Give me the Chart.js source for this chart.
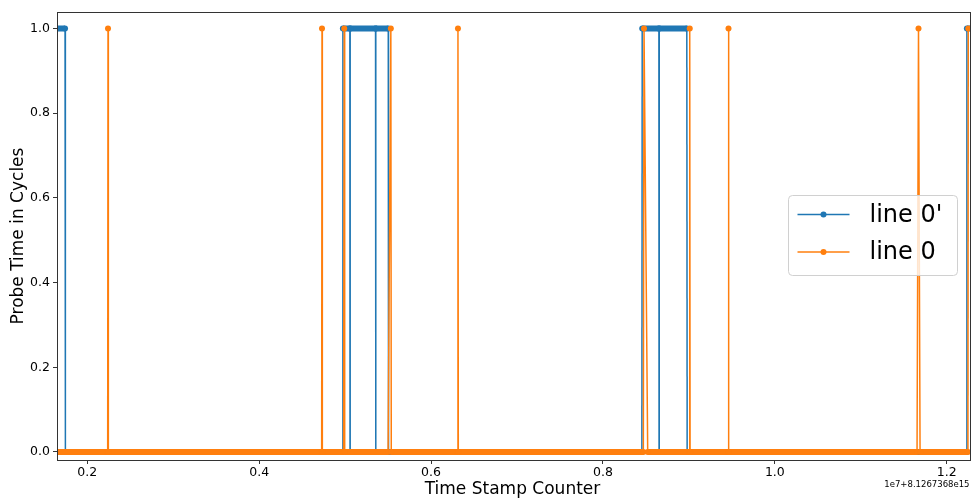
<!DOCTYPE html>
<html>
<head>
<meta charset="utf-8">
<script src="https://cdn.jsdelivr.net/npm/chart.js@4/dist/chart.umd.min.js"></script>
<style>
  html, body { margin: 0; padding: 0; background: #fff; }
</style>
</head>
<body>
<canvas id="probeChart" width="972" height="498"></canvas>
<script>
// Axis ticks and limits (x in units of 1e7, offset 8.1267368e15)
const xTicks = [0.2, 0.4, 0.6, 0.8, 1.0, 1.2];
const yTicks = [0.0, 0.2, 0.4, 0.6, 0.8, 1.0];
const xRange = [0.16474, 1.22479];
const yRange = [-0.019, 1.039];
const offsetLabel = '1e7+8.1267368e15';

// line 0' (blue)
const line0pTimes  = [0.1600, 0.1741, 0.1745, 0.4970, 0.4974, 0.5055, 0.5057, 0.5059,
                      0.5354, 0.5356, 0.5358, 0.5502, 0.5505, 0.8453, 0.8457, 0.8651,
                      0.8653, 0.8655, 0.8976, 0.8980, 1.2231, 1.2235, 1.2300];
const line0pValues = [1, 1, 0, 0, 1, 1, 0, 1,
                      1, 0, 1, 1, 0, 0, 1, 1,
                      0, 1, 1, 0, 0, 1, 1];

// line 0 (orange)
const line0Times  = [0.1600, 0.2237, 0.2241, 0.2245, 0.4727, 0.4731, 0.4735, 0.4982,
                     0.4990, 0.4995, 0.5500, 0.5532, 0.5537, 0.6309, 0.6313, 0.6317,
                     0.8470, 0.8478, 0.8521, 0.9003, 0.9010, 0.9014, 0.9457, 0.9461,
                     0.9465, 1.1655, 1.1672, 1.1690, 1.2247, 1.2251, 1.2256, 1.2300];
const line0Values = [0, 0, 1, 0, 0, 1, 0, 0,
                     1, 0, 0, 1, 0, 0, 1, 0,
                     0, 1, 0, 0, 1, 0, 0, 1,
                     0, 0, 1, 0, 0, 1, 0, 0];

const seriesNames = ["line 0'", 'line 0'];
const seriesColors = ['#1f77b4', '#ff7f0e'];

const toPoints = (xs, ys) => xs.map((x, i) => ({ x: x, y: ys[i] }));

// flat runs are densely sampled in the original, so the markers merge into a solid band
const bandWidth = ctx => ctx.p0.parsed.y === ctx.p1.parsed.y ? 6 : 1.5;

const font = 'DejaVu Sans';

// Chart.js keeps a few px on the right of the x axis; the plot is let run into it
const rightExtra = 2.5;

// frame, legend and offset text drawn on top of the lines, like matplotlib
const overlay = {
    id: 'overlay',
    afterDatasetsDraw(chart) {
        const c = chart.ctx;
        const a = chart.chartArea;
        const right = a.right + rightExtra;
        c.save();

        // axes frame
        c.strokeStyle = '#333';
        c.lineWidth = 1;
        c.strokeRect(a.left + 0.5, a.top + 0.5, right - a.left - 0.5, a.bottom - a.top);

        // legend
        const bx = right - 182, by = 195.5, bw = 169, bh = 80;
        c.beginPath();
        c.roundRect(bx, by, bw, bh, 4);
        c.fillStyle = 'rgba(255,255,255,0.8)';
        c.fill();
        c.strokeStyle = '#d0d0d0';
        c.lineWidth = 1;
        c.stroke();
        c.font = '24px "' + font + '"';
        c.textBaseline = 'middle';
        c.textAlign = 'left';
        seriesNames.forEach((name, i) => {
            const ry = by + 19 + i * 37.5;
            c.strokeStyle = seriesColors[i];
            c.lineWidth = 1.5;
            c.beginPath();
            c.moveTo(bx + 9, ry);
            c.lineTo(bx + 61, ry);
            c.stroke();
            c.fillStyle = seriesColors[i];
            c.beginPath();
            c.arc(bx + 35, ry, 3, 0, Math.PI * 2);
            c.fill();
            c.fillStyle = '#000';
            c.fillText(name, bx + 81, ry + 1);
        });

        // offset text under the x axis
        c.font = '8.5px "' + font + '"';
        c.textAlign = 'right';
        c.fillStyle = '#000';
        c.fillText(offsetLabel, right - 1, 484.5);
        c.restore();
    }
};

const ctx = document.getElementById('probeChart').getContext('2d');

const lineClip = { left: 0, top: 0, bottom: 0, right: rightExtra };

new Chart(ctx, {
    type: 'line',
    data: {
        datasets: [{
            label: seriesNames[0],
            data: toPoints(line0pTimes, line0pValues),
            borderColor: seriesColors[0],
            backgroundColor: seriesColors[0],
            borderWidth: 1.5,
            pointRadius: 3,
            pointBorderWidth: 0,
            segment: { borderWidth: bandWidth },
            clip: lineClip,
            order: 2
        }, {
            label: seriesNames[1],
            data: toPoints(line0Times, line0Values),
            borderColor: seriesColors[1],
            backgroundColor: seriesColors[1],
            borderWidth: 1.5,
            pointRadius: 3,
            pointBorderWidth: 0,
            segment: { borderWidth: bandWidth },
            clip: lineClip,
            order: 1
        }]
    },
    options: {
        responsive: false,
        animation: false,
        events: [],
        layout: { padding: { top: 12, right: 0, left: 0, bottom: 0 } },
        plugins: {
            legend: { display: false },
            tooltip: { enabled: false }
        },
        scales: {
            x: {
                type: 'linear',
                min: xRange[0],
                max: xRange[1],
                afterBuildTicks: scale => { scale.ticks = xTicks.map(v => ({ value: v })); },
                afterFit: scale => { scale.height = 38; },
                ticks: {
                    autoSkip: false,
                    maxRotation: 0,
                    padding: 1,
                    color: '#000',
                    font: { family: font, size: 12.5 },
                    callback: v => v.toFixed(1)
                },
                grid: { drawOnChartArea: false, drawTicks: true, tickLength: 4, color: '#000', lineWidth: 0.8 },
                border: { display: false },
                title: {
                    display: true,
                    text: 'Time Stamp Counter',
                    color: '#000',
                    font: { family: font, size: 17, lineHeight: 1 },
                    padding: { top: 0, bottom: 0 }
                }
            },
            y: {
                min: yRange[0],
                max: yRange[1],
                afterBuildTicks: scale => { scale.ticks = yTicks.map(v => ({ value: v })); },
                afterFit: scale => { scale.width = 57; },
                ticks: {
                    padding: 3,
                    color: '#000',
                    font: { family: font, size: 12.5 },
                    callback: v => v.toFixed(1)
                },
                grid: { drawOnChartArea: false, drawTicks: true, tickLength: 4, color: '#000', lineWidth: 0.8 },
                border: { display: false },
                title: {
                    display: true,
                    text: 'Probe Time in Cycles',
                    color: '#000',
                    font: { family: font, size: 17, lineHeight: 1 },
                    padding: { top: 10, bottom: 0 }
                }
            }
        }
    },
    plugins: [overlay]
});
</script>
</body>
</html>
